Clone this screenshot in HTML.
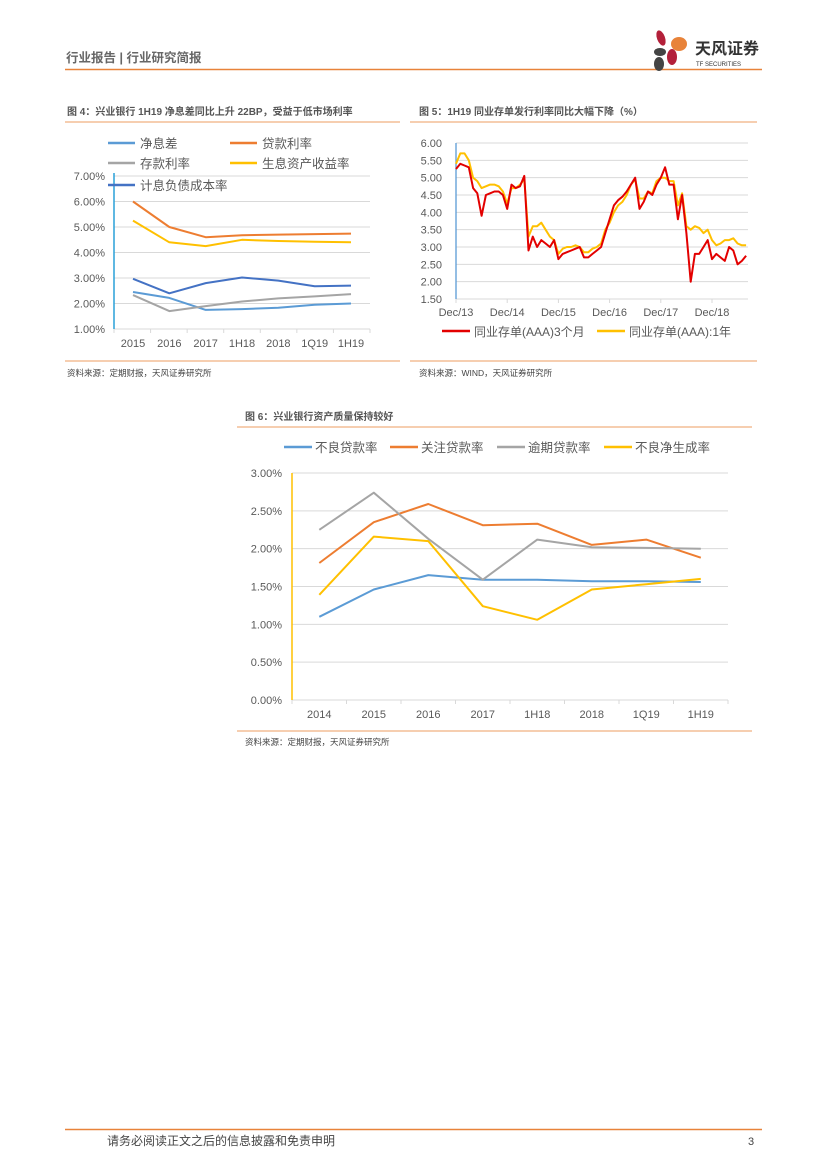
<!DOCTYPE html>
<html><head><meta charset="utf-8">
<style>
html,body{margin:0;padding:0;background:#fff;}
body{width:827px;height:1169px;overflow:hidden;position:relative;font-family:"Liberation Sans","Noto Sans CJK SC",sans-serif;}
svg{position:absolute;left:0;top:0;}
text{font-family:"Liberation Sans","Noto Sans CJK SC",sans-serif;}
</style></head>
<body>
<svg id="pg" width="827" height="1169" viewBox="0 0 827 1169">
  <text x="66" y="62" font-size="12.5" font-weight="bold" fill="#666">行业报告 | 行业研究简报</text>
  <line x1="65" y1="69.5" x2="762" y2="69.5" stroke="#E8833A" stroke-width="1.5"/>
  <g>
    <ellipse cx="661" cy="38" rx="4" ry="8" fill="#B3203A" transform="rotate(-20 661 38)"/>
    <ellipse cx="679" cy="44" rx="8" ry="7" fill="#E8833A"/>
    <ellipse cx="660" cy="52" rx="6" ry="4" fill="#444"/>
    <ellipse cx="672" cy="57" rx="5" ry="8" fill="#B3203A"/>
    <ellipse cx="659" cy="64" rx="5" ry="7" fill="#444"/>
    <text x="695" y="54" font-size="16" font-weight="bold" fill="#333">天风证券</text>
    <text x="696" y="66" font-size="6" fill="#333">TF SECURITIES</text>
  </g>

  <text x="67" y="115" font-size="10" font-weight="bold" fill="#555">图 4：兴业银行 1H19 净息差同比上升 22BP，受益于低市场利率</text>
  <line x1="65" y1="122" x2="400" y2="122" stroke="#F0B080" stroke-width="1.2"/>
  <line x1="65" y1="361" x2="400" y2="361" stroke="#F0B080" stroke-width="1.2"/>
  <text x="67" y="376" font-size="8.5" fill="#444">资料来源：定期财报，天风证券研究所</text>

  <text x="419" y="115" font-size="10" font-weight="bold" fill="#555">图 5：1H19 同业存单发行利率同比大幅下降（%）</text>
  <line x1="410" y1="122" x2="757" y2="122" stroke="#F0B080" stroke-width="1.2"/>
  <line x1="410" y1="361" x2="757" y2="361" stroke="#F0B080" stroke-width="1.2"/>
  <text x="419" y="376" font-size="8.5" fill="#444">资料来源：WIND，天风证券研究所</text>

  <text x="245" y="420" font-size="10" font-weight="bold" fill="#555">图 6：兴业银行资产质量保持较好</text>
  <line x1="237" y1="427" x2="752" y2="427" stroke="#F0B080" stroke-width="1.2"/>
  <line x1="237" y1="731" x2="752" y2="731" stroke="#F0B080" stroke-width="1.2"/>
  <text x="245" y="745" font-size="8.5" fill="#444">资料来源：定期财报，天风证券研究所</text>

  <line x1="65" y1="1129.5" x2="762" y2="1129.5" stroke="#E8833A" stroke-width="1.5"/>
  <text x="107" y="1145" font-size="12" fill="#444">请务必阅读正文之后的信息披露和免责申明</text>
  <text x="748" y="1145" font-size="11" fill="#444">3</text>

  <g id="c4"></g>
  <g id="c5"></g>
  <g id="c6"></g>
</svg>
<script>
var NS="http://www.w3.org/2000/svg";
function mk(p,tag,a){var e=document.createElementNS(NS,tag);for(var k in a)e.setAttribute(k,a[k]);p.appendChild(e);return e;}

// ---- Figure 4 data
var c4Cats=["2015","2016","2017","1H18","2018","1Q19","1H19"];
var c4Ticks=["1.00%","2.00%","3.00%","4.00%","5.00%","6.00%","7.00%"];
var c4Nim=[2.45,2.22,1.75,1.78,1.83,1.95,2.0];
var c4Loan=[6.0,5.0,4.6,4.68,4.7,4.72,4.74];
var c4Dep=[2.33,1.7,1.9,2.08,2.2,2.28,2.37];
var c4Asset=[5.25,4.4,4.25,4.5,4.45,4.42,4.4];
var c4Liab=[2.97,2.4,2.8,3.02,2.9,2.68,2.7];
var c4Names=["净息差","贷款利率","存款利率","生息资产收益率","计息负债成本率"];

// ---- Figure 5 data (monthly, Dec/13 .. Aug/19)
var c5XLabels=["Dec/13","Dec/14","Dec/15","Dec/16","Dec/17","Dec/18"];
var c5Ticks=["1.50","2.00","2.50","3.00","3.50","4.00","4.50","5.00","5.50","6.00"];
var c5M3=[5.25,5.4,5.35,5.3,4.7,4.55,3.9,4.5,4.55,4.6,4.6,4.5,4.1,
4.8,4.7,4.75,5.05,2.9,3.3,3.0,3.2,3.1,3.0,3.2,2.65,
2.8,2.85,2.9,2.95,3.0,2.7,2.7,2.8,2.9,3.0,3.4,3.8,
4.2,4.35,4.45,4.6,4.8,5.0,4.1,4.3,4.6,4.5,4.8,5.0,
5.3,4.8,4.8,3.8,4.5,3.4,2.0,2.8,2.8,3.0,3.2,2.65,
2.8,2.7,2.6,3.0,2.9,2.5,2.6,2.75];
var c5Y1=[5.4,5.7,5.7,5.5,5.0,4.9,4.7,4.75,4.8,4.8,4.75,4.6,4.25,
4.7,4.7,4.8,4.95,3.3,3.6,3.6,3.7,3.5,3.3,3.2,2.8,
2.95,3.0,3.0,3.05,3.0,2.85,2.85,2.95,3.0,3.1,3.5,3.7,
4.0,4.2,4.3,4.5,4.8,4.95,4.4,4.4,4.6,4.55,4.9,5.0,
5.0,4.9,4.9,4.2,4.55,3.6,3.5,3.6,3.55,3.4,3.5,3.2,
3.05,3.1,3.2,3.2,3.25,3.1,3.05,3.05];
var c5Names=["同业存单(AAA)3个月","同业存单(AAA):1年"];

// ---- Figure 6 data
var c6Cats=["2014","2015","2016","2017","1H18","2018","1Q19","1H19"];
var c6Ticks=["0.00%","0.50%","1.00%","1.50%","2.00%","2.50%","3.00%"];
var c6Npl=[1.10,1.46,1.65,1.59,1.59,1.57,1.57,1.56];
var c6Special=[1.81,2.35,2.59,2.31,2.33,2.05,2.12,1.88];
var c6Overdue=[2.25,2.74,2.13,1.59,2.12,2.02,2.01,2.00];
var c6NewNpl=[1.39,2.16,2.10,1.24,1.06,1.46,1.53,1.60];
var c6Names=["不良贷款率","关注贷款率","逾期贷款率","不良净生成率"];

function poly(g,xs,ys,color,w,name){
  var pts=xs.map(function(x,i){return x.toFixed(1)+","+ys[i].toFixed(1);}).join(" ");
  var p=mk(g,"polyline",{points:pts,fill:"none",stroke:color,"stroke-width":w,"stroke-linejoin":"round"});
  
  
}

// ===== Figure 4
(function(){
  var g=document.getElementById("c4");
  var L=114,R=370,T=176,B=329,ymin=1,ymax=7;
  function y(v){return B-(v-ymin)/(ymax-ymin)*(B-T);}
  var step=(351-133)/(c4Cats.length-1);
  function x(i){return 133+i*step;}
  c4Ticks.forEach(function(t,i){
    var v=ymin+i, yy=y(v);
    if(i>0){var gl=mk(g,"line",{x1:L,x2:R,y1:yy,y2:yy,stroke:"#D9D9D9","stroke-width":1});
      }
    var tx=mk(g,"text",{x:105,y:yy+4,"font-size":11,fill:"#595959","text-anchor":"end"});tx.textContent=t;
    
  });
  mk(g,"line",{x1:L,x2:R,y1:B,y2:B,stroke:"#D9D9D9"});
  for(var k=0;k<=c4Cats.length;k++){var xx=L+k*(R-L)/c4Cats.length;mk(g,"line",{x1:xx,x2:xx,y1:B,y2:B+4,stroke:"#D9D9D9"});}
  var ax=mk(g,"line",{x1:L,x2:L,y1:T-3,y2:B,stroke:"#2AA0D8","stroke-width":1.5});
  
  c4Cats.forEach(function(c,i){var t=mk(g,"text",{x:x(i),y:347,"font-size":11,fill:"#595959","text-anchor":"middle"});t.textContent=c;
    });
  var xs=c4Cats.map(function(_,i){return x(i);});
  var series=[[c4Nim,"#5B9BD5"],[c4Loan,"#ED7D31"],[c4Dep,"#A5A5A5"],[c4Asset,"#FFC000"],[c4Liab,"#4472C4"]];
  series.forEach(function(s,k){poly(g,xs,s[0].map(y),s[1],2,"line-"+k);});
  var lp=[[108,143],[230,143],[108,163],[230,163],[108,185]];
  series.forEach(function(s,k){
    var le=mk(g,"g",{});
    mk(le,"line",{x1:lp[k][0],x2:lp[k][0]+27,y1:lp[k][1],y2:lp[k][1],stroke:s[1],"stroke-width":2.5});
    var t=mk(le,"text",{x:lp[k][0]+32,y:lp[k][1]+5,"font-size":12.5,fill:"#595959"});t.textContent=c4Names[k];
  });
})();

// ===== Figure 5
(function(){
  var g=document.getElementById("c5");
  var L=456,R=748,T=143,B=299,ymin=1.5,ymax=6;
  function y(v){return B-(v-ymin)/(ymax-ymin)*(B-T);}
  var mpx=(712-456)/60;
  function x(i){return L+i*mpx;}
  c5Ticks.forEach(function(t,i){
    var v=ymin+i*0.5, yy=y(v);
    if(i>0){var gl=mk(g,"line",{x1:L,x2:R,y1:yy,y2:yy,stroke:"#D9D9D9"});}
    var tx=mk(g,"text",{x:442,y:yy+4,"font-size":11,fill:"#595959","text-anchor":"end"});tx.textContent=t;
    
  });
  mk(g,"line",{x1:L,x2:R,y1:B,y2:B,stroke:"#D9D9D9"});
  var ax=mk(g,"line",{x1:L,x2:L,y1:T,y2:B,stroke:"#5B9BD5","stroke-width":1.3});
  
  c5XLabels.forEach(function(c,i){var xx=x(i*12);
    mk(g,"line",{x1:xx,x2:xx,y1:B,y2:B+4,stroke:"#D9D9D9"});
    var t=mk(g,"text",{x:xx,y:316,"font-size":11,fill:"#595959","text-anchor":"middle"});t.textContent=c;
    });
  var xs=c5Y1.map(function(_,i){return x(i);});
  poly(g,xs,c5Y1.map(y),"#FFC000",2,"line-1y");
  poly(g,c5M3.map(function(_,i){return x(i);}),c5M3.map(y),"#E30000",2,"line-3m");
  var lg=[[442,"#E30000",0],[597,"#FFC000",1]];
  lg.forEach(function(l){
    var le=mk(g,"g",{});
    mk(le,"line",{x1:l[0],x2:l[0]+28,y1:331,y2:331,stroke:l[1],"stroke-width":2.5});
    var t=mk(le,"text",{x:l[0]+32,y:336,"font-size":12,fill:"#595959"});t.textContent=c5Names[l[2]];
  });
})();

// ===== Figure 6
(function(){
  var g=document.getElementById("c6");
  var L=292,R=728,T=473,B=700,ymin=0,ymax=3;
  function y(v){return B-(v-ymin)/(ymax-ymin)*(B-T);}
  var step=(R-L)/c6Cats.length;
  function x(i){return L+step*(i+0.5);}
  c6Ticks.forEach(function(t,i){
    var v=i*0.5, yy=y(v);
    var gl=mk(g,"line",{x1:L,x2:R,y1:yy,y2:yy,stroke:"#D9D9D9"});
    var tx=mk(g,"text",{x:282,y:yy+4,"font-size":11,fill:"#595959","text-anchor":"end"});tx.textContent=t;
    
  });
  for(var k=0;k<=c6Cats.length;k++){var xx=L+k*step;mk(g,"line",{x1:xx,x2:xx,y1:B,y2:B+4,stroke:"#D9D9D9"});}
  var ax=mk(g,"line",{x1:L,x2:L,y1:T,y2:B,stroke:"#FFC000","stroke-width":1.5});
  
  c6Cats.forEach(function(c,i){var t=mk(g,"text",{x:x(i),y:718,"font-size":11,fill:"#595959","text-anchor":"middle"});t.textContent=c;
    });
  var xs=c6Cats.map(function(_,i){return x(i);});
  var series=[[c6Npl,"#5B9BD5"],[c6Special,"#ED7D31"],[c6Overdue,"#A5A5A5"],[c6NewNpl,"#FFC000"]];
  series.forEach(function(s,k){poly(g,xs,s[0].map(y),s[1],2,"line-"+k);});
  var lx=[284,390,497,604];
  series.forEach(function(s,k){
    var le=mk(g,"g",{});
    mk(le,"line",{x1:lx[k],x2:lx[k]+28,y1:447,y2:447,stroke:s[1],"stroke-width":2.5});
    var t=mk(le,"text",{x:lx[k]+31,y:452,"font-size":12.5,fill:"#595959"});t.textContent=c6Names[k];
  });
})();
</script>
</body></html>
